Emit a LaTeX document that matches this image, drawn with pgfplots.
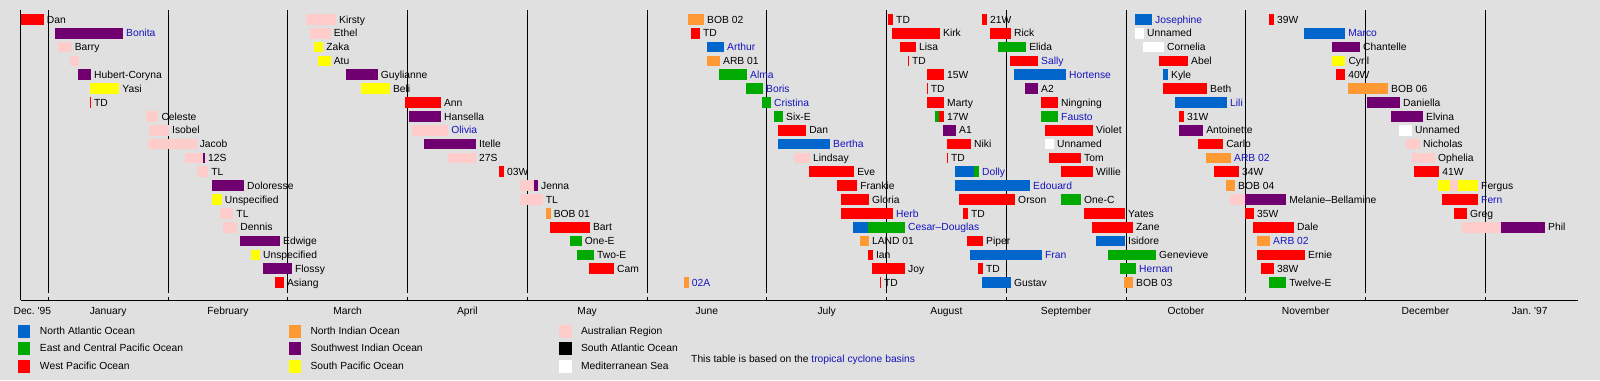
\documentclass[border=0pt]{standalone}
\usepackage{pgfplots}
\pgfplotsset{compat=1.18}
\usepackage{pgfplotstable}
\usepackage{fontspec}
\setmainfont{Liberation Sans}
\definecolor{bgc}{RGB}{224,224,224}
\definecolor{cat}{RGB}{0,102,204}
\definecolor{cep}{RGB}{0,170,0}
\definecolor{cwp}{RGB}{255,0,0}
\definecolor{cni}{RGB}{255,153,51}
\definecolor{csw}{RGB}{112,0,112}
\definecolor{csp}{RGB}{255,255,0}
\definecolor{cau}{RGB}{255,204,204}
\definecolor{csa}{RGB}{0,0,0}
\definecolor{cme}{RGB}{255,255,255}
\definecolor{lnk}{RGB}{20,20,190}
\newcommand\lab{\fontsize{10.3pt}{12pt}\selectfont}

% x = months since 1 Jan 1996, r = row (0 = top)
\pgfplotstableread{
s e r
-0.230 -0.038 0
0.348 0.357 6
1.893 1.968 19
2.979 3.279 6
3.764 3.806 11
4.190 4.523 15
4.515 4.724 18
5.367 5.442 1
6.094 6.328 8
6.353 6.729 11
6.587 6.754 12
6.620 6.853 13
6.620 7.054 14
6.845 6.886 17
6.878 7.154 18
6.945 6.953 19
7.012 7.054 0
7.045 7.446 1
7.112 7.246 2
7.179 7.187 3
7.338 7.480 4
7.335 7.344 5
7.338 7.480 6
7.438 7.480 7
7.505 7.705 9
7.505 7.513 10
7.605 8.073 13
7.638 7.680 14
7.672 7.805 16
7.764 7.805 18
7.797 7.839 0
7.864 8.039 1
8.031 8.265 3
8.290 8.432 6
8.323 8.724 8
8.357 8.624 10
8.457 8.724 11
8.649 8.991 14
8.716 9.058 15
9.275 9.517 3
9.309 9.676 5
9.442 9.484 7
9.601 9.810 9
9.735 9.943 11
9.993 10.068 14
10.060 10.402 15
10.093 10.494 17
10.127 10.235 18
10.194 10.235 0
10.753 10.829 4
11.405 11.614 11
11.638 11.939 13
11.738 11.846 14
}\WP
\pgfplotstableread{
s e r
5.501 5.643 2
6.094 6.528 9
6.720 6.845 15
7.571 7.730 11
7.571 8.198 12
7.697 8.298 17
7.797 8.039 19
8.064 8.498 4
8.749 8.991 16
9.075 9.217 0
9.309 9.350 4
9.409 9.843 6
10.486 10.829 1
}\AT
\pgfplotstableread{
s e r
4.357 4.454 16
4.413 4.557 17
5.601 5.835 4
5.826 5.968 5
5.960 6.035 6
6.060 6.135 7
6.845 7.154 15
7.405 7.438 7
7.730 7.772 11
7.931 8.165 2
8.290 8.432 7
8.457 8.624 13
8.849 9.250 17
8.949 9.083 18
10.194 10.336 19
}\EP
\pgfplotstableread{
s e r
4.159 4.195 14
5.309 5.348 19
5.342 5.476 0
5.501 5.609 3
6.779 6.853 16
8.983 9.058 19
9.668 9.876 10
9.835 9.910 12
10.093 10.202 16
10.853 11.187 5
}\NI
\pgfplotstableread{
s e r
0.056 0.624 1
0.248 0.357 4
1.294 1.309 10
1.365 1.634 12
1.601 1.935 16
1.790 2.035 18
2.486 2.751 4
3.012 3.279 7
3.137 3.572 9
4.056 4.089 12
7.471 7.580 8
8.156 8.265 5
9.442 9.643 8
9.993 10.336 13
10.720 10.953 2
11.012 11.287 6
11.212 11.479 7
12.130 12.498 15
}\SW
\pgfplotstableread{
s e r
0.348 0.593 5
1.367 1.448 13
1.690 1.768 17
2.219 2.296 2
2.252 2.358 3
2.609 2.853 5
10.720 10.831 3
11.605 11.705 12
11.772 11.939 12
}\SP
\pgfplotstableread{
s e r
0.084 0.195 2
0.181 0.259 3
0.813 0.919 7
0.841 1.008 8
0.835 1.239 9
1.142 1.294 10
1.238 1.336 11
1.434 1.545 14
1.461 1.578 15
2.152 2.403 0
2.185 2.358 1
3.040 3.340 8
3.340 3.572 10
3.939 4.056 12
3.939 4.129 13
6.227 6.361 10
9.868 9.993 13
11.338 11.454 9
11.388 11.580 10
11.705 11.772 12
11.805 12.130 15
}\AU
\pgfplotstableread{
s e r
8.323 8.398 9
9.075 9.150 1
9.142 9.317 2
11.279 11.387 8
}\ME

\pgfplotstableread[col sep=comma]{
x,r,lab
-0.038,0,Dan
0.195,2,Barry
0.357,4,Hubert-Coryna
0.593,5,Yasi
0.357,6,TD
0.919,7,Celeste
1.008,8,Isobel
1.239,9,Jacob
1.309,10,12S
1.336,11,TL
1.634,12,Doloresse
1.448,13,Unspecified
1.545,14,TL
1.578,15,Dennis
1.935,16,Edwige
1.768,17,Unspecified
2.035,18,Flossy
1.968,19,Asiang
2.403,0,Kirsty
2.358,1,Ethel
2.296,2,Zaka
2.358,3,Atu
2.751,4,Guylianne
2.853,5,Beli
3.279,6,Ann
3.279,7,Hansella
3.572,9,Itelle
3.572,10,27S
3.806,11,03W
4.089,12,Jenna
4.129,13,TL
4.195,14,BOB 01
4.523,15,Bart
4.454,16,One-E
4.557,17,Two-E
4.724,18,Cam
5.476,0,BOB 02
5.442,1,TD
5.609,3,ARB 01
6.135,7,Six-E
6.328,8,Dan
6.361,10,Lindsay
6.729,11,Eve
6.754,12,Frankie
6.853,13,Gloria
6.853,16,LAND 01
6.886,17,Ian
7.154,18,Joy
6.953,19,TD
7.054,0,TD
7.446,1,Kirk
7.246,2,Lisa
7.187,3,TD
7.480,4,15W
7.344,5,TD
7.480,6,Marty
7.480,7,17W
7.580,8,A1
7.705,9,Niki
7.513,10,TD
8.073,13,Orson
7.680,14,TD
7.805,16,Piper
7.805,18,TD
8.039,19,Gustav
7.839,0,21W
8.039,1,Rick
8.165,2,Elida
8.265,5,A2
8.432,6,Ningning
8.724,8,Violet
8.398,9,Unnamed
8.624,10,Tom
8.724,11,Willie
8.624,13,One-C
8.991,14,Yates
9.058,15,Zane
8.991,16,Isidore
9.250,17,Genevieve
9.058,19,BOB 03
9.150,1,Unnamed
9.317,2,Cornelia
9.517,3,Abel
9.350,4,Kyle
9.676,5,Beth
9.484,7,31W
9.643,8,Antoinette
9.810,9,Carlo
9.943,11,34W
9.910,12,BOB 04
10.336,13,Melanie–Bellamine
10.068,14,35W
10.402,15,Dale
10.494,17,Ernie
10.235,18,38W
10.336,19,Twelve-E
10.235,0,39W
10.953,2,Chantelle
10.831,3,Cyril
10.829,4,40W
11.187,5,BOB 06
11.287,6,Daniella
11.479,7,Elvina
11.387,8,Unnamed
11.454,9,Nicholas
11.580,10,Ophelia
11.614,11,41W
11.939,12,Fergus
11.846,14,Greg
12.498,15,Phil
}\BL
\pgfplotstableread[col sep=comma]{
x,r,lab
0.624,1,Bonita
3.340,8,Olivia
5.348,19,02A
5.643,2,Arthur
5.835,4,Alma
5.968,5,Boris
6.035,6,Cristina
6.528,9,Bertha
7.054,14,Herb
7.154,15,Cesar–Douglas
7.772,11,Dolly
8.198,12,Edouard
8.298,17,Fran
8.265,3,Sally
8.498,4,Hortense
8.432,7,Fausto
9.083,18,Hernan
9.217,0,Josephine
9.843,6,Lili
9.876,10,ARB 02
10.202,16,ARB 02
10.829,1,Marco
11.939,13,Fern
}\BLU

\pgfplotsset{
  segs/.style={draw=none, mark=none, forget plot,
    error bars/.cd, x dir=plus, x explicit, error mark=none,
    error bar style={line width=10.7pt, draw=#1}},
  labs/.style={draw=none, mark=none, forget plot, nodes near coords,
    point meta=explicit symbolic,
    nodes near coords style={anchor=west, inner sep=0pt, xshift=3pt,
      font=\lab, text=#1, text height=7.5pt, text depth=0pt}},
}

\begin{document}
\begin{tikzpicture}
\fill[bgc] (0,0) rectangle (1600pt,380pt);
\path[use as bounding box] (0,0) rectangle (1600pt,380pt);
\begin{axis}[
  at={(20.7pt,80pt)}, anchor=south west,
  scale only axis, width=1557.3pt, height=290pt,
  xmin=-0.23, xmax=12.774, ymin=-0.671, ymax=20.253, y dir=reverse,
  hide axis, clip=false,
  legend columns=3,
  legend cell align=left,
  legend style={draw=none, fill=none, inner sep=0pt, outer sep=0pt,
    at={(0,0)}, anchor=north west, xshift=-2.7pt, yshift=-25.1pt,
    row sep=4.3pt, column sep=0pt, nodes={inner sep=0pt}, font=\lab},
  legend image code/.code={\fill[#1, draw=none] (0pt,-6.5pt) rectangle (12.5pt,6.5pt); \path[draw=none, fill=none] (0pt,0pt) rectangle (22pt,0pt);},
]
% month grid lines
\draw[black, line width=1pt] (axis cs:-0.23,-0.671) -- (axis cs:-0.23,20.253);
\pgfplotsinvokeforeach{0,...,12}{
  \draw[black, line width=1pt] (axis cs:#1,-0.671) -- (axis cs:#1,19.747);
  \draw[black, line width=1pt] (axis cs:#1,20.253) -- ([yshift=3.5pt]axis cs:#1,20.253);
}
\draw[black, line width=1pt] (axis cs:-0.23,20.253) -- (axis cs:12.774,20.253);

\addplot[segs=cau] table[x=s, y=r, x error expr=\thisrow{e}-\thisrow{s}] {\AU};
\addplot[segs=cwp] table[x=s, y=r, x error expr=\thisrow{e}-\thisrow{s}] {\WP};
\addplot[segs=cat] table[x=s, y=r, x error expr=\thisrow{e}-\thisrow{s}] {\AT};
\addplot[segs=cep] table[x=s, y=r, x error expr=\thisrow{e}-\thisrow{s}] {\EP};
\addplot[segs=cni] table[x=s, y=r, x error expr=\thisrow{e}-\thisrow{s}] {\NI};
\addplot[segs=csw] table[x=s, y=r, x error expr=\thisrow{e}-\thisrow{s}] {\SW};
\addplot[segs=csp] table[x=s, y=r, x error expr=\thisrow{e}-\thisrow{s}] {\SP};
\addplot[segs=cme] table[x=s, y=r, x error expr=\thisrow{e}-\thisrow{s}] {\ME};

\addplot[labs=black] table[x=x, y=r, meta=lab] {\BL};
\addplot[labs=lnk] table[x=x, y=r, meta=lab] {\BLU};

% month names
\node[font=\lab, anchor=base] at ([yshift=-14.5pt]axis cs:-0.133,20.253) {Dec.\ \textquotesingle95};
\node[font=\lab, anchor=base] at ([yshift=-14.5pt]axis cs:0.5,20.253) {January};
\node[font=\lab, anchor=base] at ([yshift=-14.5pt]axis cs:1.5,20.253) {February};
\node[font=\lab, anchor=base] at ([yshift=-14.5pt]axis cs:2.5,20.253) {March};
\node[font=\lab, anchor=base] at ([yshift=-14.5pt]axis cs:3.5,20.253) {April};
\node[font=\lab, anchor=base] at ([yshift=-14.5pt]axis cs:4.5,20.253) {May};
\node[font=\lab, anchor=base] at ([yshift=-14.5pt]axis cs:5.5,20.253) {June};
\node[font=\lab, anchor=base] at ([yshift=-14.5pt]axis cs:6.5,20.253) {July};
\node[font=\lab, anchor=base] at ([yshift=-14.5pt]axis cs:7.5,20.253) {August};
\node[font=\lab, anchor=base] at ([yshift=-14.5pt]axis cs:8.5,20.253) {September};
\node[font=\lab, anchor=base] at ([yshift=-14.5pt]axis cs:9.5,20.253) {October};
\node[font=\lab, anchor=base] at ([yshift=-14.5pt]axis cs:10.5,20.253) {November};
\node[font=\lab, anchor=base] at ([yshift=-14.5pt]axis cs:11.5,20.253) {December};
\node[font=\lab, anchor=base] at ([yshift=-14.5pt]axis cs:12.37,20.253) {Jan.\ \textquotesingle97};

\addlegendimage{fill=cat}\addlegendentry{\makebox[248.5pt][l]{North Atlantic Ocean}}
\addlegendimage{fill=cni}\addlegendentry{\makebox[248.5pt][l]{North Indian Ocean}}
\addlegendimage{fill=cau}\addlegendentry{\makebox[248.5pt][l]{Australian Region}}
\addlegendimage{fill=cep}\addlegendentry{\makebox[248.5pt][l]{East and Central Pacific Ocean}}
\addlegendimage{fill=csw}\addlegendentry{\makebox[248.5pt][l]{Southwest Indian Ocean}}
\addlegendimage{fill=csa}\addlegendentry{\makebox[248.5pt][l]{South Atlantic Ocean}}
\addlegendimage{fill=cwp}\addlegendentry{\makebox[248.5pt][l]{West Pacific Ocean}}
\addlegendimage{fill=csp}\addlegendentry{\makebox[248.5pt][l]{South Pacific Ocean}}
\addlegendimage{fill=cme}\addlegendentry{\makebox[248.5pt][l]{Mediterranean Sea}}
\end{axis}
\node[font=\lab, anchor=base west, inner sep=0pt] at (691pt,17.5pt) {This table is based on the \textcolor{lnk}{tropical cyclone basins}};
\end{tikzpicture}
\end{document}
